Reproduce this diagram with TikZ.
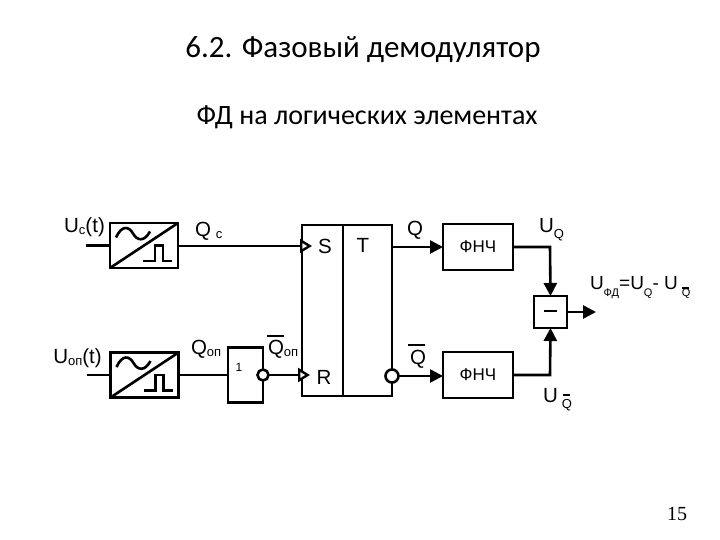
\documentclass[tikz,border=0pt]{standalone}
\usepackage{fontspec}
\setmainfont{Liberation Sans}
\newfontfamily\titlefont{Carlito}
\newfontfamily\pagefont{Liberation Serif}
\usetikzlibrary{arrows.meta}
\newcommand{\lsub}[1]{{\fontsize{13}{13}\selectfont\raisebox{-2.5pt}{#1}}}
\newcommand{\ldown}[1]{{\fontsize{13}{13}\selectfont\raisebox{-6pt}{#1}}}
\newcommand{\lsmall}[1]{{\fontsize{11}{11}\selectfont\raisebox{-7pt}{#1}}}
\begin{document}
\begin{tikzpicture}[
        x=1pt, y=-1pt,
        every node/.style={inner sep=0pt, outer sep=0pt},
        block/.style={rectangle, draw, line width=2.6pt, fill=white},
        conv/.style={block, minimum width=68pt, minimum height=45pt},
        lpf/.style={block, minimum width=70pt, minimum height=46pt, font=\fontsize{17}{17}\selectfont},
        bubble/.style={circle, draw, line width=2.6pt, fill=white, minimum size=11pt},
        lbl/.style={font=\fontsize{20.5}{22}\selectfont},
        wire/.style={line width=2.6pt},
        arrow/.style={wire, -{Triangle[length=13pt,width=13pt]}},
        clk/.style={wire, -{Triangle[open,fill=white,length=12pt,width=14pt,line width=2.4pt]}},
        title/.style={font=\titlefont\fontsize{31}{33}\selectfont}
    ]
        \useasboundingbox (0,0) rectangle (720,540);

        \node[title] (head) at (363,50) {6.2. Фазовый демодулятор};
        \node[title, font=\titlefont\fontsize{28}{30}\selectfont] (sub) at (367,117) {ФД на логических элементах};
        \node[font=\pagefont\fontsize{20}{22}\selectfont] (page) at (677,514) {15};

        \node[conv] (conv1) at (144,245.5) {};
        \node[conv] (conv2) at (144.5,375) {};
        \node[block, minimum width=35pt, minimum height=55pt] (inv) at (245.5,375) {};
        \node[block, minimum width=90pt, minimum height=171pt] (trig) at (347,310.5) {};
        \node[lpf] (lpf1) at (478,247) {ФНЧ};
        \node[lpf] (lpf2) at (478,375) {ФНЧ};
        \node[block, minimum width=33pt, minimum height=32pt] (diff) at (550.5,312) {};

        \foreach \conv in {conv1,conv2} {
            \draw[wire] (\conv.south west) -- (\conv.north east);
            \begin{scope}[shift={(\conv.center)}]
                \draw[wire] (-28,-8) .. controls (-22,-21) and (-15,-19) .. (-11,-12) .. controls (-7,-5) and (0,-3) .. (6,-14);
                \draw[wire] (-1,15.5) -- (11,15.5) -- (11,0) -- (19,0) -- (19,15.5) -- (28,15.5);
            \end{scope}
        }

        \draw[wire] ([xshift=41pt]trig.north west) -- ([xshift=41pt]trig.south west);

        \coordinate (in1) at (86,245.5);
        \coordinate (in2) at (87,375);
        \coordinate (set) at (312,246);
        \coordinate (rst) at (310,375);
        \coordinate (qout) at (392,247);
        \coordinate (node1) at (550,247);
        \coordinate (node2) at (550,375);
        \coordinate (out) at (596,312);

        \draw[wire] (in1) -- (conv1);
        \draw[wire] (in2) -- (conv2);
        \draw[wire] (conv2) -- (inv);
        \draw[clk] (conv1.east |- set) -- (set);
        \node[bubble] (nbub) at (inv.east) {};
        \draw[clk] (nbub) -- (rst);
        \node[bubble, minimum size=13pt] (qbub) at (392,376) {};

        \draw[arrow] (qout) -- (lpf1);
        \draw[arrow] (qbub) -- (lpf2.west |- qbub);
        \draw[arrow] (lpf1) -- (node1) -- (diff.north);
        \draw[arrow] (lpf2) -- (node2) -- (diff.south);
        \draw[arrow] (diff) -- (out);
        \draw[wire] (544,311) -- (557,311);

        \node[lbl] (us) at (84.5,227) {U\lsub{с}(t)};
        \node[lbl] (uop) at (77.5,358) {U\lsub{оп}(t)};
        \node[lbl, anchor=west] (qs) at (195,231) {Q\hspace{5pt}\lsub{с}};
        \node[lbl, anchor=west] (qop) at (191,349) {Q\lsub{оп}};
        \node[lbl, anchor=west] (qnop) at (268,349) {Q\lsub{оп}};
        \node[font=\fontsize{12}{12}\selectfont] (one) at (239,367) {1};
        \node[lbl] (ls) at (325,246) {S};
        \node[lbl] (lr) at (324,377) {R};
        \node[lbl] (lt) at (363,245) {T};
        \node[lbl] (lq) at (415,230) {Q};
        \node[lbl] (lqn) at (418,359) {Q};
        \node[lbl, anchor=west] (uq) at (539,230) {U\ldown{Q}};
        \node[lbl, anchor=west] (uqn) at (543,400) {U\hspace{4pt}\ldown{Q}};
        \node[lbl, anchor=west, font=\fontsize{19}{20}\selectfont] (ufd) at (590,288) {U\lsmall{ФД}=U\lsmall{Q}- U\hspace{4pt}\lsmall{Q}};

        \draw[wire] (267,336) -- (284,336);
        \draw[wire] (408,345) -- (425,345);
        \draw[line width=1.5pt] (563,395) -- (570,395);
        \draw[line width=1.5pt] (682,288) -- (689,288);
    \end{tikzpicture}
\end{document}
